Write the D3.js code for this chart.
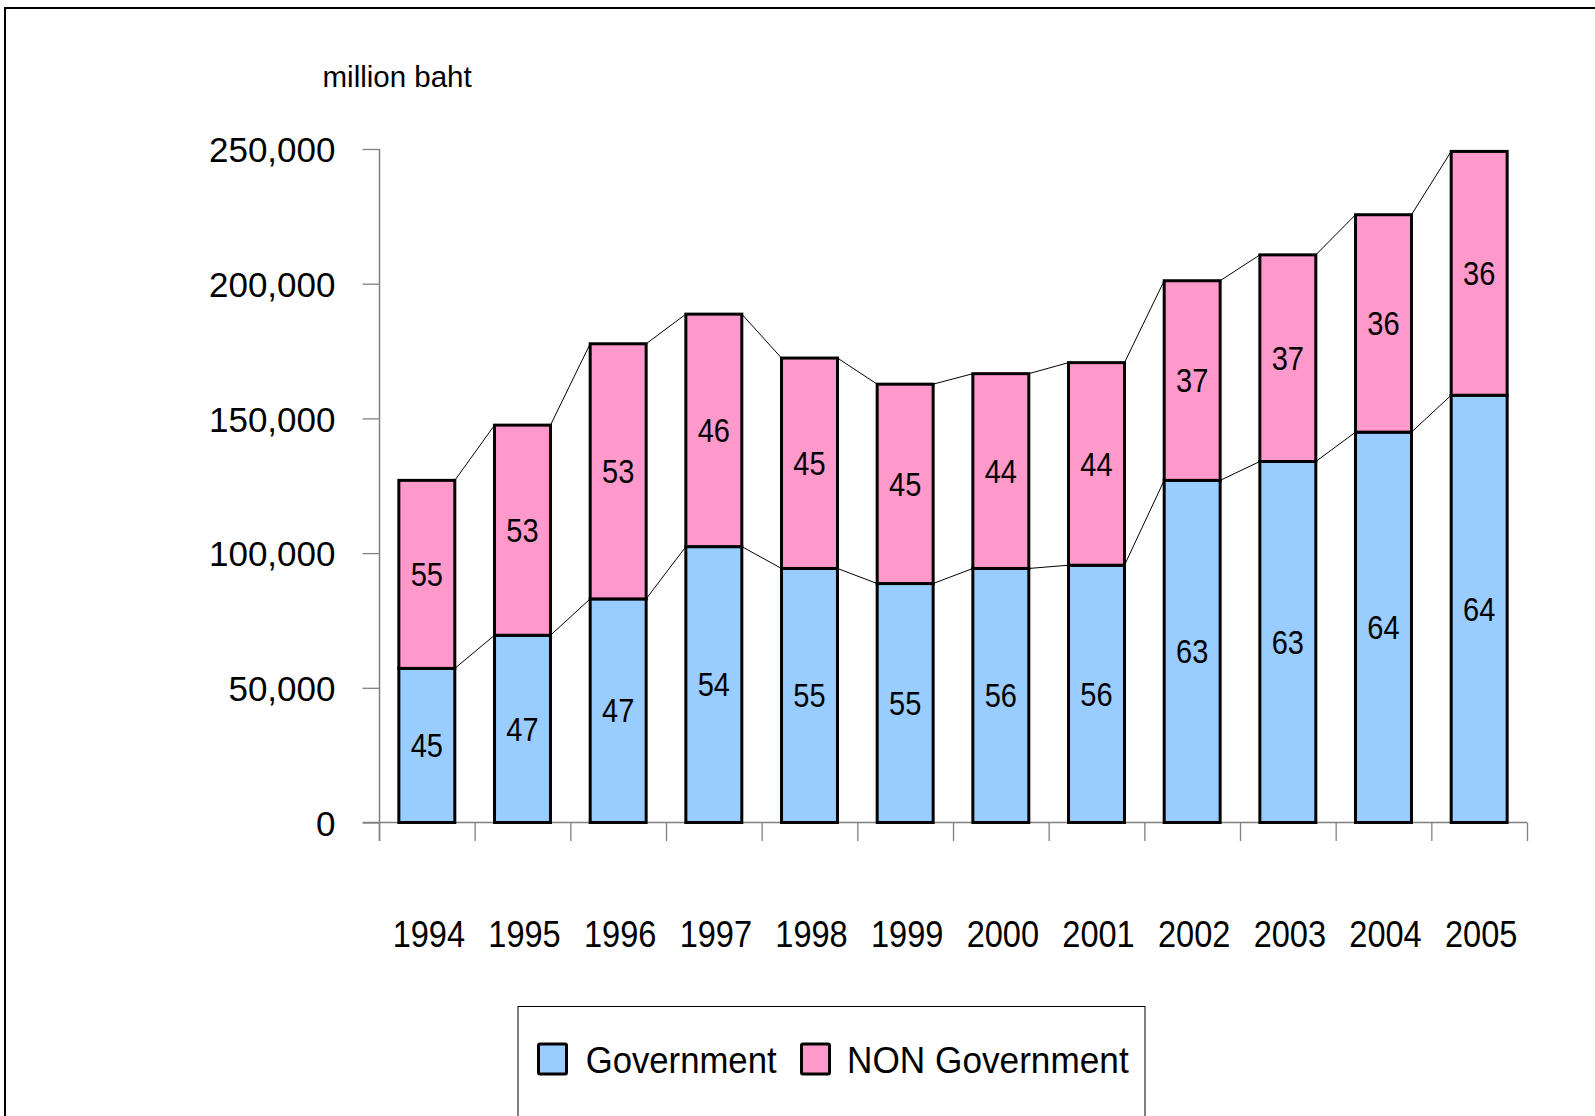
<!DOCTYPE html>
<html>
<head>
<meta charset="utf-8">
<script src="https://cdn.jsdelivr.net/npm/d3@7"></script>
<style>
  html, body { margin: 0; padding: 0; background: #fff; }
  svg { display: block; }
  text { font-family: "Liberation Sans", Arial, sans-serif; fill: #000; }
</style>
</head>
<body>
<svg id="chart" width="1595" height="1116"></svg>
<script>
// ---- data ----
const years = ["1994","1995","1996","1997","1998","1999","2000","2001","2002","2003","2004","2005"];
const government    = [57200, 69500, 83000, 102400, 94300, 88700, 94300, 95500, 127000, 134000, 144900, 158600];
const nonGovernment = [69800, 78000, 94700, 86300, 78100, 74000, 72300, 75200, 74100, 76700, 80700, 90500];
const govPct    = [45, 47, 47, 54, 55, 55, 56, 56, 63, 63, 64, 64];
const nonGovPct = [55, 53, 53, 46, 45, 45, 44, 44, 37, 37, 36, 36];
const yTicks = [0, 50000, 100000, 150000, 200000, 250000];
const seriesNames = ["Government", "NON Government"];
const seriesColors = ["#99CCFF", "#FF99CC"];

const svg = d3.select("#chart");

// outer frame
svg.append("rect").attr("x", 5).attr("y", 8).attr("width", 1700).attr("height", 1200)
  .attr("fill", "none").attr("stroke", "#000").attr("stroke-width", 2);

const x = d3.scaleBand().domain(years).range([379, 1527]).paddingInner(0.415).paddingOuter(0.2075);
const y = d3.scaleLinear().domain([0, 250000]).range([822.5, 149]);

const axisColor = "#808080";

// y axis
const yAxis = svg.append("g").attr("transform", "translate(379.5,0)")
  .call(d3.axisLeft(y).tickValues(yTicks).tickFormat(d3.format(",")).tickSize(17).tickPadding(27));
yAxis.select(".domain").remove();
yAxis.selectAll(".tick line").attr("stroke", axisColor).attr("stroke-width", 1.3);
yAxis.selectAll(".tick text").attr("font-size", 35).attr("dy", "0.36em")
  .style("font-family", "'Liberation Sans', Arial, sans-serif").attr("fill", "#1a1a1a");
svg.append("line").attr("x1", 379.5).attr("x2", 379.5).attr("y1", y(250000)).attr("y2", 841)
  .attr("stroke", axisColor).attr("stroke-width", 1.5);

// x axis line + ticks at band boundaries
svg.append("line").attr("x1", 363).attr("x2", 1527).attr("y1", y(0)).attr("y2", y(0))
  .attr("stroke", axisColor).attr("stroke-width", 1.5);
const x0 = x.range()[0], step = x.step();
svg.append("g").selectAll("line").data(d3.range(years.length + 1)).join("line")
  .attr("x1", i => x0 + i * step + 0.5).attr("x2", i => x0 + i * step + 0.5)
  .attr("y1", y(0)).attr("y2", 841)
  .attr("stroke", axisColor).attr("stroke-width", 1.3);

// year labels
svg.append("g").selectAll("text").data(years).join("text")
  .attr("transform", d => `translate(${x(d) + x.bandwidth() / 2 + 2},947) scale(0.88,1)`)
  .attr("text-anchor", "middle").attr("font-size", 37).attr("fill", "#1a1a1a").text(d => d);

// stacked data
const rows = years.map((yr, i) => ({ year: yr, gov: government[i], non: nonGovernment[i] }));
const stack = d3.stack().keys(["gov", "non"])(rows);

// series connector lines
stack.forEach(layer => {
  const g = svg.append("g");
  for (let i = 0; i < layer.length - 1; i++) {
    g.append("line")
      .attr("x1", x(years[i]) + x.bandwidth()).attr("y1", y(layer[i][1]))
      .attr("x2", x(years[i + 1])).attr("y2", y(layer[i + 1][1]))
      .attr("stroke", "#000").attr("stroke-width", 1);
  }
});

// bars
stack.forEach((layer, si) => {
  svg.append("g").selectAll("rect").data(layer).join("rect")
    .attr("x", d => x(d.data.year)).attr("width", x.bandwidth())
    .attr("y", d => y(d[1])).attr("height", d => y(d[0]) - y(d[1]))
    .attr("fill", seriesColors[si]).attr("stroke", "#000").attr("stroke-width", 3);
});

// data labels
const pcts = [govPct, nonGovPct];
stack.forEach((layer, si) => {
  svg.append("g").selectAll("text").data(layer).join("text")
    .attr("transform", d => `translate(${x(d.data.year) + x.bandwidth() / 2},${(y(d[0]) + y(d[1])) / 2 + 11.8}) scale(0.88,1)`)
    .attr("text-anchor", "middle").attr("font-size", 33)
    .text((d, i) => pcts[si][i]);
});

// unit label
svg.append("text").attr("x", 322.5).attr("y", 87.3).attr("font-size", 29.5).text("million baht");

// legend
svg.append("rect").attr("x", 518).attr("y", 1006.5).attr("width", 627).attr("height", 200)
  .attr("fill", "none").attr("stroke", "#000").attr("stroke-width", 1);
const legendItems = [
  { sx: 538.5, tx: 585.7, sc: 0.956 },
  { sx: 801.5, tx: 847, sc: 0.97 }
];
legendItems.forEach((it, i) => {
  svg.append("rect").attr("x", it.sx).attr("y", 1044).attr("width", 28).attr("height", 30)
    .attr("fill", seriesColors[i]).attr("stroke", "#000").attr("stroke-width", 3).attr("rx", 1.5);
  svg.append("text").attr("transform", `translate(${it.tx},1072.5) scale(${it.sc},1)`)
    .attr("font-size", 36.3).attr("fill", "#1a1a1a").text(seriesNames[i]);
});
</script>
</body>
</html>
